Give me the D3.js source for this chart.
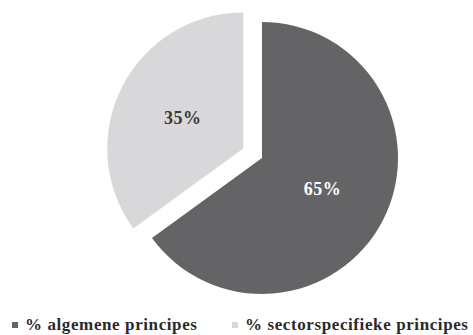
<!DOCTYPE html>
<html><head><meta charset="utf-8">
<script src="https://cdn.jsdelivr.net/npm/d3@7"></script>
<style>body{margin:0;background:#fff}svg{display:block}</style>
</head><body>
<svg id="c" width="473" height="335"></svg>
<script>
const categories = ["% algemene principes", "% sectorspecifieke principes"];
const values = [65, 35];
const labels = ["65%", "35%"];
const colors = ["#646467", "#d8d8da"];
const labelColors = ["#ffffff", "#3a3a3a"];

const svg = d3.select("#c");
const cx = 262, cy = 158, r = 136, explode = [0, 21];
const pie = d3.pie().sort(null).value(d => d)(values);
const arc = d3.arc().innerRadius(0).outerRadius(r);
const g = svg.append("g").attr("transform", `translate(${cx},${cy})`);
const slices = g.selectAll("g.s").data(pie).enter().append("g")
  .attr("transform", (d, i) => {
    const a = (d.startAngle + d.endAngle) / 2;
    return `translate(${Math.sin(a) * explode[i]},${-Math.cos(a) * explode[i]})`;
  });
slices.append("path").attr("d", arc).attr("fill", (d, i) => colors[i]);
slices.append("text")
  .attr("transform", d => `translate(${arc.centroid(d)})`)
  .attr("text-anchor", "middle").attr("dy", "0.35em")
  .attr("font-family", "Liberation Serif, serif").attr("font-weight", "bold")
  .attr("font-size", 18).attr("letter-spacing", 0.5)
  .attr("fill", (d, i) => labelColors[i])
  .text((d, i) => labels[i]);

const legX = [12, 232];
const leg = svg.selectAll("g.l").data(categories).enter().append("g")
  .attr("transform", (d, i) => `translate(${legX[i]},0)`);
leg.append("rect").attr("x", 0).attr("y", 322).attr("width", 6).attr("height", 6)
  .attr("fill", (d, i) => colors[i]);
leg.append("text").attr("x", 13).attr("y", 330)
  .attr("font-family", "Liberation Serif, serif").attr("font-weight", "bold")
  .attr("font-size", 17).attr("letter-spacing", 0.6).attr("fill", "#2a2a2a")
  .text(d => d);
</script>
</body></html>
